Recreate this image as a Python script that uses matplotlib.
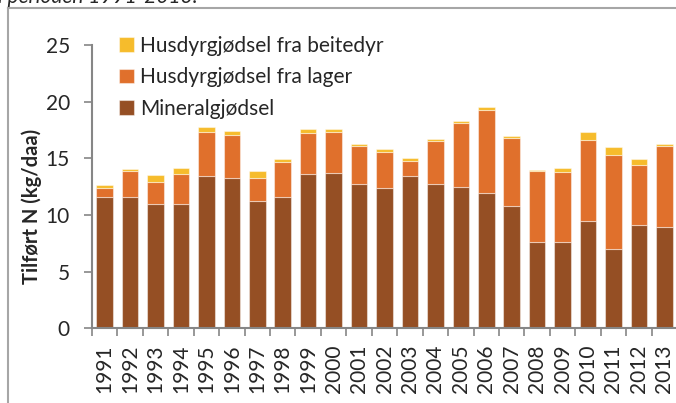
import matplotlib
matplotlib.use("Agg")
import matplotlib.pyplot as plt
from matplotlib.lines import Line2D
import numpy as np

YEARS = [str(y) for y in range(1991, 2014)]
MINERAL = [11.6, 11.6, 11.0, 11.0, 13.4, 13.3, 11.2, 11.6, 13.6, 13.7, 12.7, 12.4,
           13.4, 12.7, 12.5, 11.9, 10.8, 7.6, 7.6, 9.5, 7.0, 9.1, 8.9]
LAGER = [0.75, 2.25, 1.95, 2.6, 3.9, 3.8, 2.1, 3.05, 3.6, 3.6, 3.35, 3.2,
         1.4, 3.8, 5.65, 7.4, 5.95, 6.25, 6.15, 7.1, 8.25, 5.3, 7.15]
BEITE = [0.3, 0.2, 0.55, 0.55, 0.5, 0.35, 0.55, 0.3, 0.4, 0.3, 0.25, 0.2,
         0.25, 0.2, 0.15, 0.2, 0.25, 0.15, 0.4, 0.7, 0.75, 0.55, 0.25]

LABELS = ["Mineralgjødsel", "Husdyrgjødsel fra lager", "Husdyrgjødsel fra beitedyr"]
COLORS = ["#954F24", "#E0702C", "#F6BC2C"]

plt.rcParams["font.family"] = ["Lato", "DejaVu Sans"]
GRAY = "#868686"
TEXT = "#262626"

W, H = 676, 403
fig = plt.figure(figsize=(W / 100, H / 100), dpi=100)
ax = fig.add_axes([92 / W, (H - 328.3) / H, 585 / W, 283.3 / H])

x = np.arange(len(YEARS))
mineral = np.array(MINERAL)
lager = np.array(LAGER)
beite = np.array(BEITE)
edge = (1, 1, 1, 0.45)
ax.bar(x, mineral, 0.65, color=COLORS[0], edgecolor=edge, linewidth=0.8, label=LABELS[0])
ax.bar(x, lager, 0.65, bottom=mineral, color=COLORS[1], edgecolor=edge, linewidth=0.8, label=LABELS[1])
ax.bar(x, beite, 0.65, bottom=mineral + lager, color=COLORS[2], edgecolor=edge, linewidth=0.8, label=LABELS[2])

ax.set_xlim(-0.5, len(YEARS) - 0.5)
ax.set_ylim(0, 25)
ax.set_yticks(range(0, 26, 5))
ax.set_xticks(x)
ax.set_xticklabels(YEARS, rotation=90)
ax.set_xticks(np.arange(-0.5, len(YEARS)), minor=True)
ax.tick_params(axis="x", which="major", length=0, pad=12, labelsize=15, labelcolor=TEXT)
ax.tick_params(axis="x", which="minor", length=6, width=1.2, color=GRAY)
ax.tick_params(axis="y", length=6, width=1.2, color=GRAY, labelsize=15, labelcolor=TEXT, pad=10)

for side in ["top", "right"]:
    ax.spines[side].set_visible(False)
for side in ["left", "bottom"]:
    ax.spines[side].set_color(GRAY)
    ax.spines[side].set_linewidth(1.5)

ax.set_ylabel("Tilført N (kg/daa)", fontsize=14.5, fontweight="bold", color=TEXT)
ax.yaxis.set_label_coords(-0.0855, 0.429)

handles, labels = ax.get_legend_handles_labels()
leg = ax.legend(handles[::-1], labels[::-1], loc="upper left", bbox_to_anchor=(0.014, 1.099),
                frameon=False, fontsize=15, handlelength=0.7, handleheight=0.7,
                handletextpad=0.3, labelspacing=0.55, labelcolor=TEXT)

# frame around the chart and the cut-off caption above it
fig.add_artist(Line2D([8 / W, 8 / W], [0, 1 - 8 / H], color="#a6a6a6", lw=1.5))
fig.add_artist(Line2D([8 / W, 1], [1 - 8 / H, 1 - 8 / H], color="#a6a6a6", lw=1.5))
fig.text(-0.003, 1 - 3 / H, "i perioden 1991-2013.", fontsize=15, style="italic",
         color=TEXT, va="baseline", ha="left")

fig.savefig("out.png", dpi=100)
